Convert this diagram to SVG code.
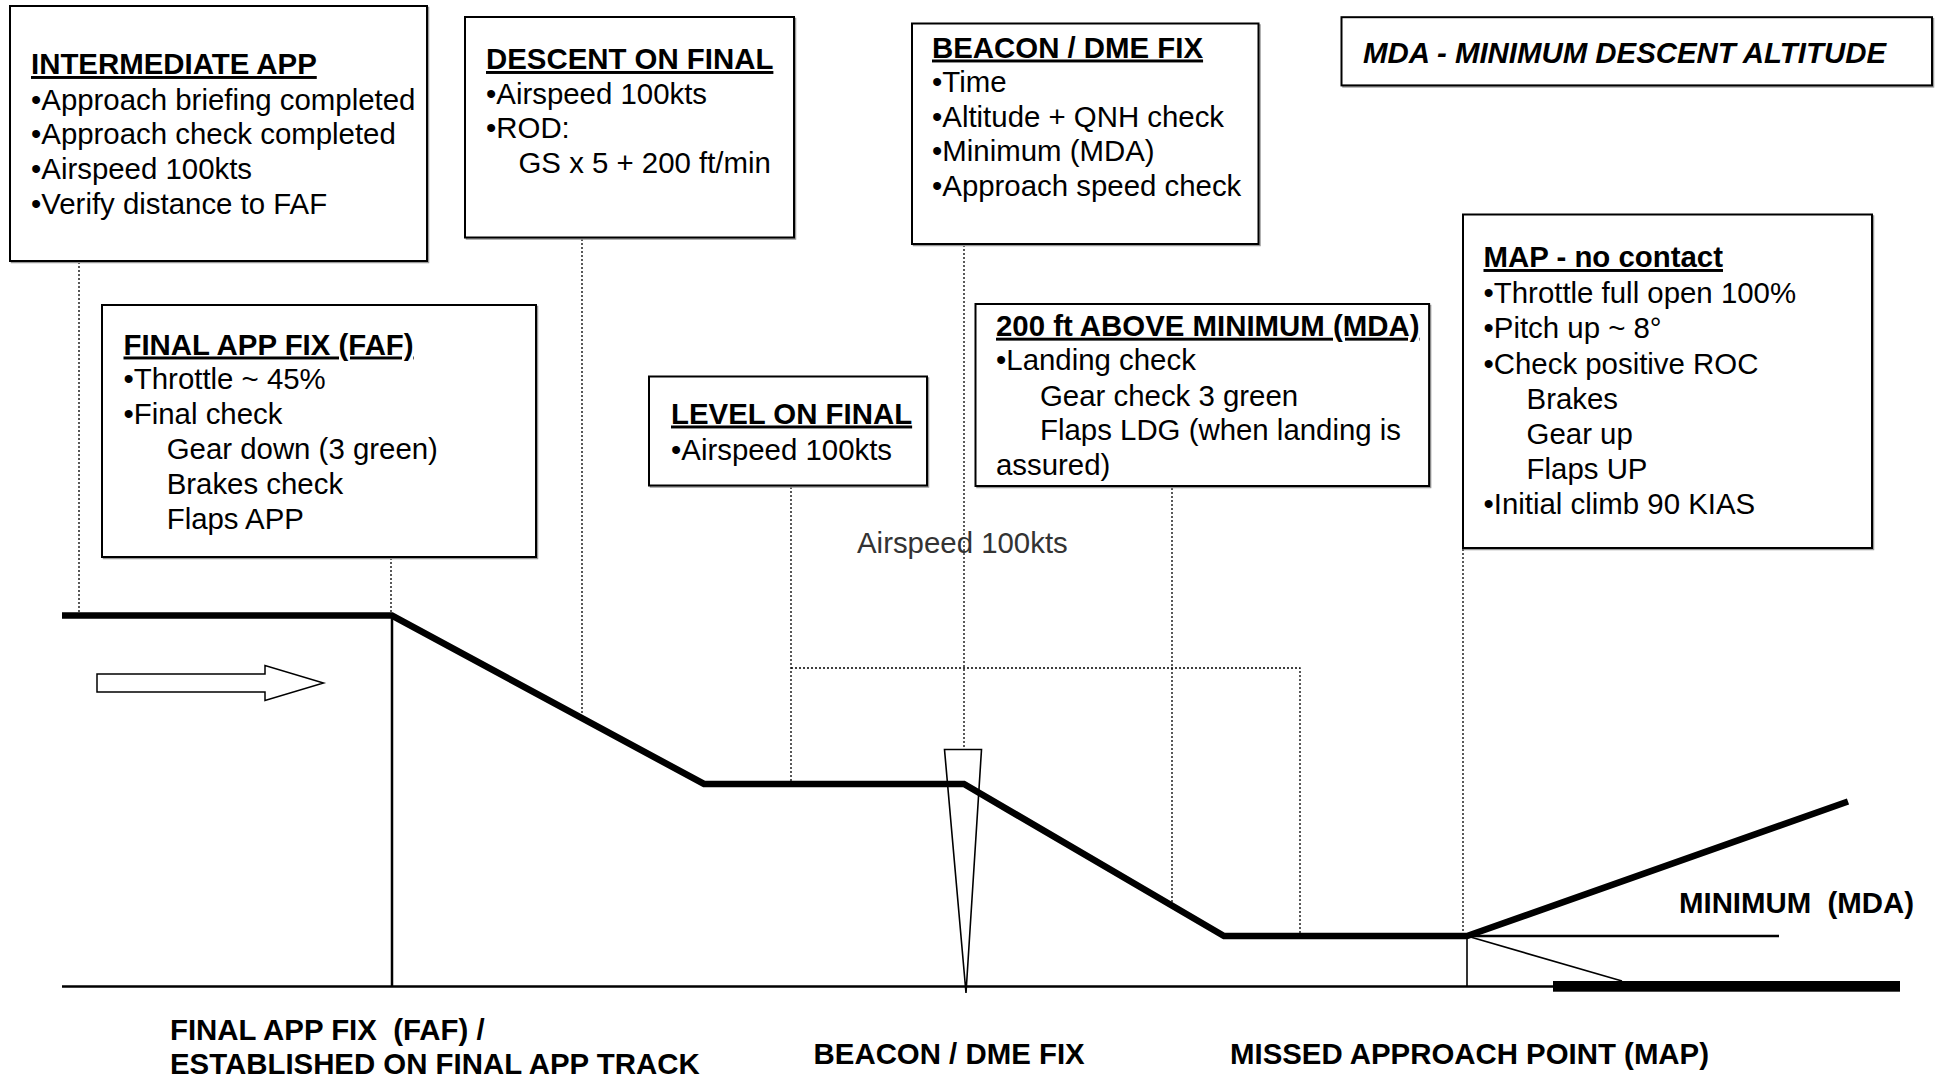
<svg xmlns="http://www.w3.org/2000/svg" width="1936" height="1077" viewBox="0 0 1936 1077">
<style>
.box{fill:#fff;stroke:#000;stroke-width:2}
.shadow{fill:none;stroke:#999;stroke-width:1.5}
.t{font-family:"Liberation Sans",Arial,sans-serif;font-size:29.4px;fill:#000}
.h{font-weight:bold;text-decoration:underline;text-decoration-skip-ink:none;text-decoration-thickness:3px}
.b{font-weight:bold}
.dot{fill:none;stroke:#000;stroke-width:1.3;stroke-dasharray:2 2}
.thin{fill:none;stroke:#000;stroke-width:2.5}
.hair{fill:none;stroke:#000;stroke-width:1.6}
</style>
<rect x="0" y="0" width="1936" height="1077" fill="#fff"/>

<g id="connectors">
<line class="dot" x1="79" y1="262" x2="79" y2="613"/>
<line class="dot" x1="582" y1="239" x2="582" y2="716"/>
<line class="dot" x1="391" y1="558" x2="391" y2="613"/>
<line class="dot" x1="791" y1="487" x2="791" y2="781"/>
<line class="dot" x1="964" y1="245" x2="964" y2="749"/>
<polyline class="dot" points="791,668 1300,668 1300,939"/>
<line class="dot" x1="1172" y1="488" x2="1172" y2="902"/>
<line class="dot" x1="1463" y1="549" x2="1463" y2="934"/>
</g>

<g id="profile">
<line class="thin" x1="62" y1="986.5" x2="1553" y2="986.5"/>
<rect x="1553" y="981" width="347" height="10.7" fill="#000"/>
<line class="thin" x1="392" y1="615" x2="392" y2="986.5"/>
<line class="hair" x1="1467" y1="936" x2="1467" y2="986.5"/>
<line class="thin" x1="1467" y1="936" x2="1779" y2="936"/>
<line class="hair" x1="1467" y1="936" x2="1622" y2="981"/>
<polygon points="944.5,749.5 981.5,749.5 966,993" fill="none" stroke="#000" stroke-width="1.6" stroke-linejoin="miter"/>
<polyline points="62,615.5 392,615.5 704,784 964,784 1224,936 1467,936 1848,801.5" fill="none" stroke="#000" stroke-width="6.6" stroke-linejoin="miter" stroke-miterlimit="10"/>
<polygon points="97,674 265,674 265,665.5 323.5,683 265,700.5 265,692 97,692" fill="#fff" stroke="#000" stroke-width="1.5"/>
</g>

<g id="node-intermediate">
<rect class="shadow" x="11.5" y="7.5" width="417" height="255"/>
<rect class="box" x="10" y="6" width="417" height="255"/>
<text class="t"><tspan class="h" x="31" y="74">INTERMEDIATE APP</tspan><tspan x="31" y="109.5">•Approach briefing completed</tspan><tspan x="31" y="144">•Approach check completed</tspan><tspan x="31" y="179">•Airspeed 100kts</tspan><tspan x="31" y="213.5">•Verify distance to FAF</tspan></text>
</g>

<g id="node-descent">
<rect class="shadow" x="466.5" y="18.5" width="329" height="220.5"/>
<rect class="box" x="465" y="17" width="329" height="220.5"/>
<text class="t"><tspan class="h" x="486" y="69">DESCENT ON FINAL</tspan><tspan x="486" y="103.5">•Airspeed 100kts</tspan><tspan x="486" y="138">•ROD:</tspan><tspan x="518.5" y="172.5">GS x 5 + 200 ft/min</tspan></text>
</g>

<g id="node-beacon">
<rect class="shadow" x="913.5" y="25" width="346.5" height="220.5"/>
<rect class="box" x="912" y="23.5" width="346.5" height="220.5"/>
<text class="t"><tspan class="h" x="932" y="57.5">BEACON / DME FIX</tspan><tspan x="932" y="92">•Time</tspan><tspan x="932" y="126.5">•Altitude + QNH check</tspan><tspan x="932" y="161">•Minimum (MDA)</tspan><tspan x="932" y="195.5">•Approach speed check</tspan></text>
</g>

<g id="node-mda">
<rect class="shadow" x="1343" y="18.7" width="590.5" height="68.2"/>
<rect class="box" x="1341.5" y="17.2" width="590.5" height="68.2"/>
<text class="t b" x="1363" y="63" font-style="italic">MDA - MINIMUM DESCENT ALTITUDE</text>
</g>

<g id="node-faf">
<rect class="shadow" x="103.5" y="306.5" width="434" height="252"/>
<rect class="box" x="102" y="305" width="434" height="252"/>
<text class="t"><tspan class="h" x="123.5" y="354.5">FINAL APP FIX (FAF)</tspan><tspan x="123.5" y="389">•Throttle ~ 45%</tspan><tspan x="123.5" y="424">•Final check</tspan><tspan x="166.7" y="459">Gear down (3 green)</tspan><tspan x="166.7" y="494">Brakes check</tspan><tspan x="166.7" y="529">Flaps APP</tspan></text>
</g>

<g id="node-level">
<rect class="shadow" x="650.5" y="378" width="278" height="109"/>
<rect class="box" x="649" y="376.5" width="278" height="109"/>
<text class="t"><tspan class="h" x="671" y="423.5">LEVEL ON FINAL</tspan><tspan x="671" y="459.7">•Airspeed 100kts</tspan></text>
</g>

<g id="node-200ft">
<rect class="shadow" x="977" y="305.5" width="453.6" height="182"/>
<rect class="box" x="975.5" y="304" width="453.6" height="182"/>
<text class="t"><tspan class="h" x="996" y="335.7">200 ft ABOVE MINIMUM (MDA)</tspan><tspan x="996" y="370">•Landing check</tspan><tspan x="1040" y="405.6">Gear check 3 green</tspan><tspan x="1040" y="440">Flaps LDG (when landing is</tspan><tspan x="996" y="474.5">assured)</tspan></text>
</g>

<g id="node-map">
<rect class="shadow" x="1464.5" y="216" width="409" height="333.5"/>
<rect class="box" x="1463" y="214.5" width="409" height="333.5"/>
<text class="t"><tspan class="h" x="1483.5" y="267">MAP - no contact</tspan><tspan x="1483.5" y="303">•Throttle full open 100%</tspan><tspan x="1483.5" y="338">•Pitch up ~ 8°</tspan><tspan x="1483.5" y="373.6">•Check positive ROC</tspan><tspan x="1526.6" y="409">Brakes</tspan><tspan x="1526.6" y="444">Gear up</tspan><tspan x="1526.6" y="478.6">Flaps UP</tspan><tspan x="1483.5" y="513.8">•Initial climb 90 KIAS</tspan></text>
</g>

<g id="labels">
<text class="t" x="857" y="553" style="fill:#333">Airspeed 100kts</text>
<text class="t b" x="1679" y="913" xml:space="preserve">MINIMUM  (MDA)</text>
<text class="t b" x="170" y="1040" xml:space="preserve">FINAL APP FIX  (FAF) /</text>
<text class="t b" x="170" y="1074">ESTABLISHED ON FINAL APP TRACK</text>
<text class="t b" x="813.6" y="1064">BEACON / DME FIX</text>
<text class="t b" x="1230" y="1064">MISSED APPROACH POINT (MAP)</text>
</g>
</svg>
